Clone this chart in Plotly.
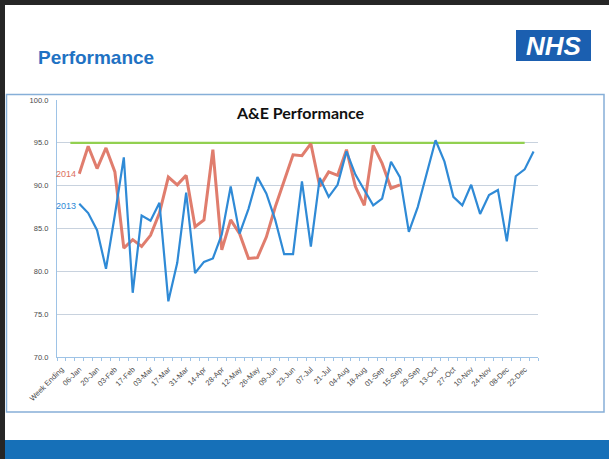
import plotly.graph_objects as go

# ---------------- data ----------------
weeks = ["06-Jan", "13-Jan", "20-Jan", "27-Jan", "03-Feb", "10-Feb", "17-Feb", "24-Feb",
         "03-Mar", "10-Mar", "17-Mar", "24-Mar", "31-Mar", "07-Apr", "14-Apr", "21-Apr",
         "28-Apr", "05-May", "12-May", "19-May", "26-May", "02-Jun", "09-Jun", "16-Jun",
         "23-Jun", "30-Jun", "07-Jul", "14-Jul", "21-Jul", "28-Jul", "04-Aug", "11-Aug",
         "18-Aug", "25-Aug", "01-Sep", "08-Sep", "15-Sep", "22-Sep", "29-Sep", "06-Oct",
         "13-Oct", "20-Oct", "27-Oct", "03-Nov", "10-Nov", "17-Nov", "24-Nov", "01-Dec",
         "08-Dec", "15-Dec", "22-Dec", "29-Dec"]
header_labels = ["Week Ending", ""]

perf_2013 = [87.9, 86.8, 84.8, 80.3, 86.6, 93.3, 77.5, 86.5, 85.9, 88.0,
             76.5, 81.0, 89.2, 79.8, 81.1, 81.5, 84.3, 89.9, 84.4, 87.3,
             91.0, 89.1, 86.0, 82.0, 82.0, 90.5, 82.9, 90.9, 88.7, 90.1,
             94.0, 91.3, 89.5, 87.7, 88.5, 92.8, 91.0, 84.6, 87.5, 91.4,
             95.3, 92.8, 88.7, 87.7, 90.1, 86.7, 88.9, 89.5, 83.5, 91.1,
             91.9, 94.0]
perf_2014 = [91.4, 94.6, 92.0, 94.4, 91.6, 82.7, 83.7, 82.9, 84.2, 86.8,
             91.0, 90.1, 91.2, 85.2, 86.0, 94.2, 82.5, 86.0, 84.4, 81.5,
             81.6, 84.0, 87.5, 90.5, 93.6, 93.5, 94.9, 89.9, 91.6, 91.2,
             94.2, 89.9, 87.7, 94.7, 92.6, 89.7, 90.1]
target_value = 95.0
y_ticks = [70, 75, 80, 85, 90, 95, 100]

# ---------------- build ----------------
categories = header_labels + weeks
n_cat = len(categories)
pos = list(range(n_cat))
x13 = pos[2:2 + len(perf_2013)]
x14 = pos[2:2 + len(perf_2014)]
x_target = pos[1:n_cat - 1]
tick_pos = pos[0:n_cat:2]
tick_txt = categories[0:n_cat:2]

W, H = 609, 459
def px(x):
    return x / W
def py(y):
    return 1 - y / H

BLUE = "#2f8ad6"
RED = "#dd6f5e"
GREEN = "#92d050"

fig = go.Figure()
fig.add_trace(go.Scatter(x=x_target, y=[target_value] * len(x_target), mode="lines",
                         line=dict(color=GREEN, width=2.2), hoverinfo="skip", showlegend=False))
fig.add_trace(go.Scatter(x=x14, y=perf_2014, mode="lines", name="2014",
                         line=dict(color=RED, width=3), opacity=0.9, showlegend=False))
fig.add_trace(go.Scatter(x=x13, y=perf_2013, mode="lines", name="2013",
                         line=dict(color=BLUE, width=2.2), showlegend=False))

# series labels at first point
fig.add_annotation(x=x14[0], y=perf_2014[0], text="2014", showarrow=False,
                   xanchor="right", yanchor="middle", xshift=-1,
                   font=dict(family="Liberation Sans", size=9, color=RED))
fig.add_annotation(x=x13[0], y=perf_2013[0], text="2013", showarrow=False,
                   xanchor="right", yanchor="middle", xshift=-1, yshift=-2,
                   font=dict(family="Liberation Sans", size=9, color=BLUE))

# chart title
fig.add_annotation(xref="paper", yref="paper", x=px(300), y=py(113), text="<b>A&amp;E Performance</b>",
                   showarrow=False, xanchor="center", yanchor="middle",
                   font=dict(family="Lato", size=16, color="#111111"))

# slide title
fig.add_annotation(xref="paper", yref="paper", x=px(36), y=py(57), text="<b>Performance</b>",
                   showarrow=False, xanchor="left", yanchor="middle",
                   font=dict(family="Liberation Sans", size=19, color="#1f72c3"))

# white slide body (paper background acts as the dark slide border)
fig.add_shape(type="rect", xref="paper", yref="paper", x0=px(5), x1=1, y0=py(440), y1=py(5),
              fillcolor="white", line=dict(width=0), layer="below")
# NHS logo
fig.add_shape(type="rect", xref="paper", yref="paper", x0=px(516), x1=px(591), y0=py(61), y1=py(30),
              fillcolor="#1b5fb0", line=dict(width=0), layer="above")
fig.add_annotation(xref="paper", yref="paper", x=px(553.5), y=py(46), text="<b><i>NHS</i></b>",
                   showarrow=False, xanchor="center", yanchor="middle",
                   font=dict(family="Liberation Sans", size=26, color="white"))
# bottom band
fig.add_shape(type="rect", xref="paper", yref="paper", x0=px(5), x1=1, y0=0, y1=py(440),
              fillcolor="#1670b8", line=dict(width=0), layer="below")
# chart frame
fig.add_shape(type="rect", xref="paper", yref="paper", x0=px(6.5), x1=px(604), y0=py(412), y1=py(94.5),
              fillcolor="rgba(0,0,0,0)", line=dict(color="#86afd8", width=1.5), layer="below")

fig.update_layout(
    width=W, height=H,
    margin=dict(l=0, r=0, t=0, b=0, pad=0, autoexpand=False),
    paper_bgcolor="#262626", plot_bgcolor="white",
    xaxis=dict(domain=[px(57), px(538)], range=[-0.5, n_cat - 0.5], automargin=False,
               tickmode="array", tickvals=tick_pos, ticktext=tick_txt,
               tickangle=-45, ticks="", showgrid=False,
               tickfont=dict(family="Liberation Sans", size=7.5, color="#4a4a4a"),
               showline=True, linecolor="#9ec3e6", linewidth=1.2, zeroline=False,
               minor=dict(tickmode="linear", tick0=0.5, dtick=1, ticks="outside",
                          ticklen=3, tickcolor="#9ec3e6", showgrid=False),
               ticklabelstandoff=4),
    yaxis=dict(domain=[py(357), py(100)], range=[70, 100], automargin=False,
               tickmode="array", tickvals=y_ticks, tickformat=".1f",
               tickfont=dict(family="Liberation Sans", size=7.5, color="#4a4a4a"),
               showgrid=True, gridcolor="#c8d2de", gridwidth=1,
               showline=True, linecolor="#9ec3e6", linewidth=1.2, zeroline=False,
               ticks="", ticklabelstandoff=6),
)

post = ("document.documentElement.style.margin='0';"
        "document.body.style.margin='0';document.body.style.padding='0';"
        "document.body.style.overflow='hidden';"
        "document.body.style.background='#262626';"
        "var gd=document.getElementById('{plot_id}');"
        "return Plotly.relayout(gd, {'paper_bgcolor': '#262626'});")

fig.write_html("out.html", config={"displayModeBar": False}, post_script=post)
